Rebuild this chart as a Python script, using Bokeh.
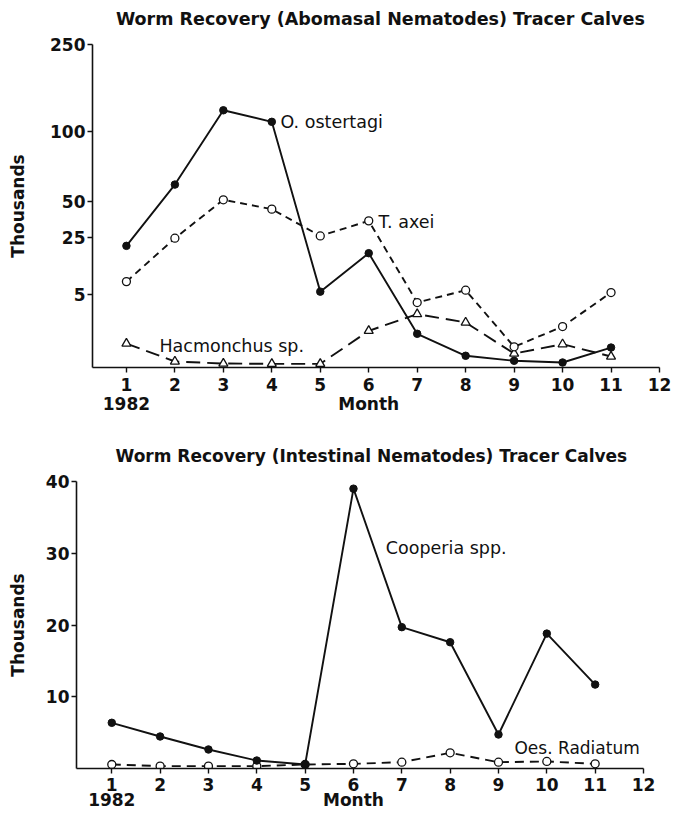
import numpy as np
from bokeh.plotting import figure
from bokeh.models import Range1d, FixedTicker, Label, LinearAxis
from bokeh.embed import file_html
from bokeh.resources import INLINE

# ---------------- data (thousands) ----------------
months = list(range(1, 12))
o_ostertagi = [22.1, 62, 136, 116, 5.9, 19.5, 2.3, 0.8, 0.46, 0.34, 1.36]
t_axei = [9.45, 24.8, 51.2, 44.7, 26.2, 36.6, 4.43, 6.4, 1.41, 2.79, 5.57]
hacmonchus = [1.63, 0.41, 0.27, 0.25, 0.25, 2.5, 3.64, 3.07, 0.95, 1.59, 0.75]
cooperia = [6.37, 4.46, 2.65, 1.11, 0.56, 39.0, 19.7, 17.6, 4.74, 18.8, 11.7]
oes_radiatum = [0.56, 0.33, 0.33, 0.33, 0.56, 0.65, 0.88, 2.19, 0.88, 0.98, 0.65]

month_ticks = list(range(1, 13))
year_month_ticks = [1, 6]
year_month_labels = ["1982", "Month"]
top_tick_values = [0, 5, 25, 50, 100, 250]
top_tick_labels = ["", "5", "25", "50", "100", "250"]
bottom_tick_values = [10, 20, 30, 40]

# the upper chart's hand-drawn (irregular) value axis: fraction of axis height
top_axis_fracs = [0, 0.227, 0.402, 0.514, 0.732, 1.0]


def top_scale(vals):
    return list(np.interp(vals, top_tick_values, top_axis_fracs))


FONT = "DejaVu Sans"
INK = "#111111"
W = 686


def bare_axis(ticks, labels, standoff, size):
    return LinearAxis(ticker=FixedTicker(ticks=ticks),
                      major_label_overrides=dict(zip(ticks, labels)),
                      axis_line_color=None, major_tick_line_color=None,
                      minor_tick_line_color=None, major_tick_out=0,
                      major_tick_in=0, major_label_standoff=standoff,
                      major_label_text_font=FONT,
                      major_label_text_font_size=size,
                      major_label_text_font_style="bold",
                      major_label_text_color=INK)


def style(p, x_start, title, title_x, title_size, label_standoff,
          x_standoff, year_standoff):
    p.x_range = Range1d(x_start, 12)
    p.xgrid.visible = False
    p.ygrid.visible = False
    p.outline_line_color = None
    for ax in (p.xaxis[0], p.yaxis[0]):
        ax.axis_line_width = 1.6
        ax.axis_line_color = INK
        ax.major_tick_line_width = 1.4
        ax.major_tick_line_color = INK
        ax.major_tick_in = 0
        ax.major_tick_out = 5
        ax.minor_tick_line_color = None
        ax.major_label_text_font = FONT
        ax.major_label_text_font_style = "bold"
        ax.major_label_text_color = INK
    p.xaxis[0].ticker = FixedTicker(ticks=month_ticks)
    p.xaxis[0].major_label_text_font_size = "17px"
    p.xaxis[0].major_label_standoff = x_standoff
    p.yaxis[0].major_label_text_font_size = "17px"
    p.yaxis[0].major_label_standoff = 2
    p.yaxis[0].axis_label = "Thousands"
    p.yaxis[0].axis_label_text_font = FONT
    p.yaxis[0].axis_label_text_font_size = "17px"
    p.yaxis[0].axis_label_text_font_style = "bold"
    p.yaxis[0].axis_label_text_color = INK
    p.yaxis[0].axis_label_standoff = label_standoff
    # "1982" under month 1 and "Month" under month 6
    p.add_layout(bare_axis(year_month_ticks, year_month_labels,
                           year_standoff, "17px"), "below")
    # chart title, set above the frame
    p.add_layout(bare_axis([title_x], [title], 16, title_size), "above")


def add_text(p, text, x, y, size="17.5px"):
    p.add_layout(Label(x=x, y=y, text=text, text_font=FONT,
                       text_font_size=size, text_color=INK,
                       text_align="left", text_baseline="middle"))


# ---------------- top chart ----------------
p1 = figure(width=W, height=428, output_backend="svg", toolbar_location=None,
            min_border_left=92, min_border_right=27, min_border_top=44,
            min_border_bottom=61)
style(p1, 0.3, "Worm Recovery (Abomasal Nematodes) Tracer Calves", 6.24,
      "17.5px", 19, 5, 0)
p1.y_range = Range1d(0, 1)
p1.yaxis[0].ticker = FixedTicker(ticks=top_axis_fracs[1:])
p1.yaxis[0].major_label_overrides = {
    f: l for f, l in zip(top_axis_fracs, top_tick_labels) if l}

y_o = top_scale(o_ostertagi)
y_t = top_scale(t_axei)
y_h = top_scale(hacmonchus)
p1.line(months, y_h, line_color=INK, line_width=1.9, line_dash="14 7")
p1.line(months, y_t, line_color=INK, line_width=1.9, line_dash="7 5")
p1.line(months, y_o, line_color=INK, line_width=1.9)
p1.scatter(months, y_h, marker="triangle", size=9, fill_color="white",
           line_color=INK, line_width=1.3)
p1.scatter(months, y_t, marker="circle", size=8, fill_color="white",
           line_color=INK, line_width=1.3)
p1.scatter(months, y_o, marker="circle", size=7.5, fill_color=INK,
           line_color=INK)

add_text(p1, "O. ostertagi", 4.18, 0.760)
add_text(p1, "T. axei", 6.2, 0.452)
add_text(p1, "Hacmonchus sp.", 1.68, 0.067)

# ---------------- bottom chart ----------------
p2 = figure(width=W, height=385, output_backend="svg", toolbar_location=None,
            min_border_left=76, min_border_right=43, min_border_top=53,
            min_border_bottom=45)
style(p2, 0.27, "Worm Recovery (Intestinal Nematodes) Tracer Calves", 6.37,
      "17px", 15, 4, -4)
p2.y_range = Range1d(0, 40)
p2.yaxis[0].ticker = FixedTicker(ticks=bottom_tick_values)

p2.line(months, oes_radiatum, line_color=INK, line_width=1.9,
        line_dash="9 6")
p2.line(months, cooperia, line_color=INK, line_width=1.9)
p2.scatter(months, oes_radiatum, marker="circle", size=8, fill_color="white",
           line_color=INK, line_width=1.3)
p2.scatter(months, cooperia, marker="circle", size=7.5, fill_color=INK,
           line_color=INK)

add_text(p2, "Cooperia spp.", 6.67, 30.7)
add_text(p2, "Oes. Radiatum", 9.33, 2.79, size="17px")

open("out.html", "w").write(file_html([p1, p2], INLINE))
